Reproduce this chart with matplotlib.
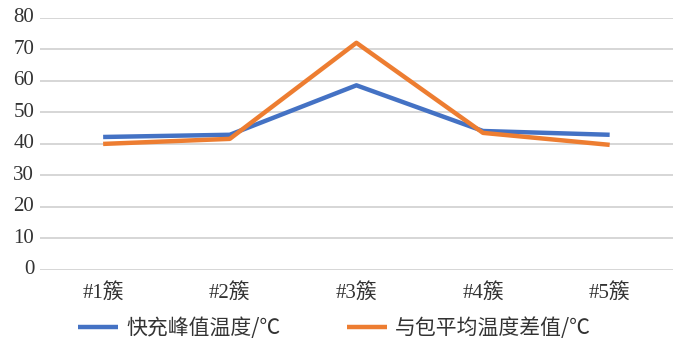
import matplotlib
matplotlib.use("Agg")
import matplotlib.pyplot as plt
from matplotlib.font_manager import FontProperties

categories = ["#1簇", "#2簇", "#3簇", "#4簇", "#5簇"]
peak_temp = [42.2, 42.9, 58.6, 44.1, 42.9]
diff_temp = [40.0, 41.6, 72.1, 43.5, 39.7]
yticks = [0, 10, 20, 30, 40, 50, 60, 70, 80]
series_names = ["快充峰值温度/℃", "与包平均温度差值/℃"]

FAM = ["Liberation Serif", "Noto Sans CJK SC"]
LEG_FAM = ["Noto Sans CJK SC", "DejaVu Sans"]
TXT = "#333333"

fig = plt.figure(figsize=(6.75, 3.51), dpi=100)
ax = fig.add_axes([0.059, 0.231, 0.938, 0.718])

x = list(range(len(categories)))
ax.plot(x, peak_temp, color="#4472C4", lw=3.2, label=series_names[0], solid_capstyle="butt")
ax.plot(x, diff_temp, color="#ED7D31", lw=3.2, label=series_names[1], solid_capstyle="butt")

ax.set_xlim(-0.5, len(categories) - 0.5)
ax.set_ylim(0, 80)
ax.set_yticks(yticks)
ax.set_xticks(x)
ax.tick_params(axis="both", length=0, labelleft=False, labelbottom=False)
for s in ax.spines.values():
    s.set_visible(False)
ax.grid(axis="y", color="#d0d0d0", lw=1.2)
ax.set_axisbelow(True)

# tick labels as real text at the tick positions
for v in yticks:
    ax.text(-0.009, v, str(v), transform=ax.get_yaxis_transform(), ha="right", va="center",
            fontsize=15, family=FAM, color=TXT)
for xi, c in zip(x, categories):
    ax.text(xi, -0.092, c, transform=ax.get_xaxis_transform(), ha="center", va="center",
            fontsize=15, family=FAM, color=TXT)

leg = fig.legend(loc="center", bbox_to_anchor=(0.496, 0.066), ncol=2, frameon=False,
                 prop=FontProperties(family=LEG_FAM, size=15),
                 handlelength=1.9, columnspacing=3.2, handletextpad=0.4)
for t in leg.get_texts():
    t.set_color(TXT)

fig.savefig("out.png", dpi=100)
